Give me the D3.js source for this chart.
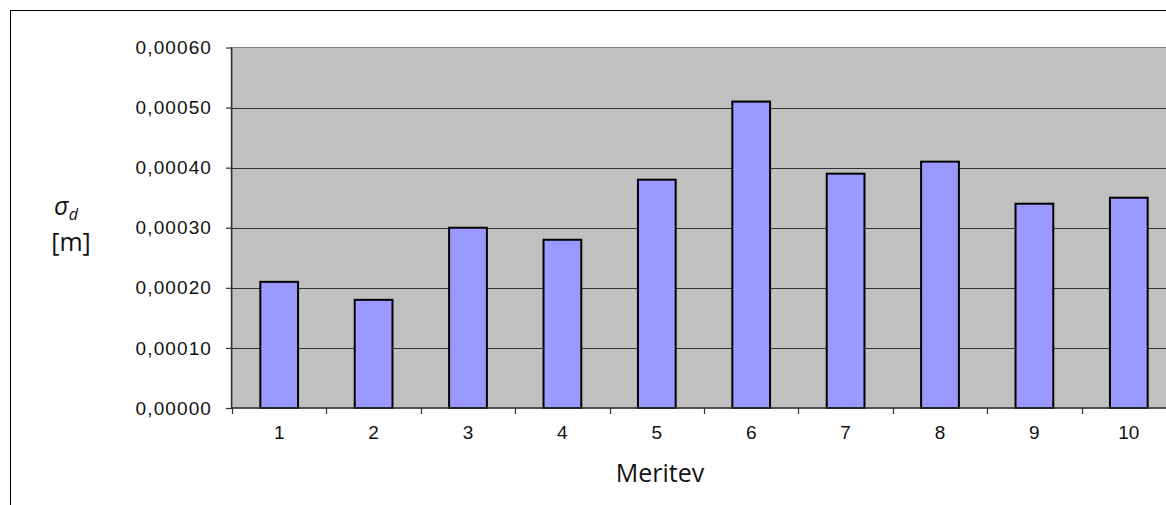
<!DOCTYPE html>
<html>
<head>
<meta charset="utf-8">
<script src="https://cdn.jsdelivr.net/npm/d3@7"></script>
<style>
html,body{margin:0;padding:0;background:#fff;overflow:hidden;}
svg{display:block;}
</style>
</head>
<body>
<svg id="chart" width="1166" height="505"></svg>
<script>
const categories = ["1","2","3","4","5","6","7","8","9","10"];
const values = [0.00021,0.00018,0.00030,0.00028,0.00038,0.00051,0.00039,0.00041,0.00034,0.00035];
const yTicks = [0,0.0001,0.0002,0.0003,0.0004,0.0005,0.0006];

const svg = d3.select("#chart");
const pLeft = 232, pRight = 1176, pTop = 47.5, pBottom = 408;

// outer chart border (extends past the viewport)
svg.append("rect").attr("x",10.5).attr("y",10.5).attr("width",1200).attr("height",600)
  .attr("fill","#fff").attr("stroke","#000").attr("stroke-width",1);

const x = d3.scaleBand().domain(categories).range([pLeft,pRight]).paddingInner(0).paddingOuter(0);
const y = d3.scaleLinear().domain([0,0.0006]).range([pBottom,pTop]);

// plot area
svg.append("rect").attr("x",pLeft).attr("y",pTop).attr("width",pRight-pLeft).attr("height",pBottom-pTop)
  .attr("fill","#C0C0C0").attr("stroke","#808080").attr("stroke-width",1);

// gridlines
svg.append("g").selectAll("line").data(yTicks.filter(d=>d>0 && d<0.0006)).join("line")
  .attr("x1",pLeft).attr("x2",pRight)
  .attr("y1",d=>Math.round(y(d))+0.5).attr("y2",d=>Math.round(y(d))+0.5)
  .attr("stroke","#333").attr("stroke-width",1.2);

// bars
const bw = x.step()/2.5;
svg.append("g").selectAll("rect").data(values).join("rect")
  .attr("x",(d,i)=>x(categories[i])+x.step()/2-bw/2)
  .attr("y",d=>y(d))
  .attr("width",bw)
  .attr("height",d=>pBottom-y(d))
  .attr("fill","#9999FF").attr("stroke","#000").attr("stroke-width",2);

const fmt = d=>d3.format(".5f")(d).replace(".",",");

// y axis
const yAxis = d3.axisLeft(y).tickValues(yTicks).tickFormat(fmt).tickSize(6).tickPadding(14);
const gy = svg.append("g").attr("transform",`translate(${pLeft},0)`).call(yAxis);
gy.select(".domain").attr("stroke","#333").attr("stroke-width",1.5).attr("d",`M-0.5,${pTop}V${pBottom}`);
gy.selectAll(".tick line").attr("stroke","#333").attr("stroke-width",1.2);
gy.selectAll(".tick text").attr("font-family","'Liberation Sans', Arial, sans-serif")
  .attr("font-size",19).attr("letter-spacing","1.1px").attr("fill","#111");

// x axis
const xAxis = d3.axisBottom(x).tickSize(0).tickPadding(18);
const gx = svg.append("g").attr("transform",`translate(0,${pBottom})`).call(xAxis);
gx.select(".domain").attr("stroke","#333").attr("stroke-width",1.5).attr("d",`M${pLeft},0H${pRight}`);
gx.selectAll(".tick text").attr("font-family","'Liberation Sans', Arial, sans-serif")
  .attr("font-size",19).attr("fill","#111").attr("dy","0.71em");
// boundary ticks between categories
gx.append("g").selectAll("line").data(categories).join("line")
  .attr("x1",d=>Math.round(x(d))+0.5).attr("x2",d=>Math.round(x(d))+0.5)
  .attr("y1",0).attr("y2",6).attr("stroke","#333").attr("stroke-width",1.2);

// axis titles
svg.append("text").attr("x",660).attr("y",482).attr("text-anchor","middle")
  .attr("font-family","'Open Sans', sans-serif").attr("font-size",25).attr("fill","#111").text("Meritev");

const yt = svg.append("text").attr("x",66).attr("y",215).attr("text-anchor","middle")
  .attr("font-family","'Open Sans', sans-serif").attr("font-size",25).attr("fill","#111");
yt.append("tspan").attr("font-style","italic").text("σ");
yt.append("tspan").attr("font-style","italic").attr("font-size",16).attr("dy",5).text("d");
svg.append("text").attr("x",71).attr("y",251).attr("text-anchor","middle")
  .attr("font-family","'Open Sans', sans-serif").attr("font-size",25).attr("fill","#111").text("[m]");
</script>
</body>
</html>
